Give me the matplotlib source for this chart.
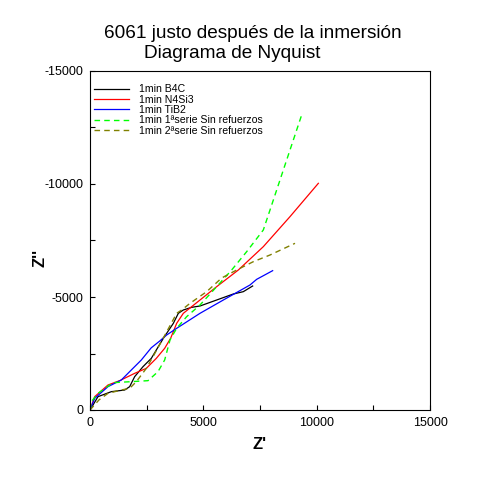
import matplotlib
matplotlib.use("Agg")
import matplotlib.pyplot as plt
from matplotlib.ticker import MultipleLocator

plt.rcParams['font.family'] = ['Liberation Sans', 'DejaVu Sans']
plt.rcParams['axes.unicode_minus'] = False

# Nyquist data (Z', Z'')
b4c_x = [0, 353, 940, 1530, 1750, 1970, 2338, 2705, 3235, 3676, 3897, 4117, 4485, 4853, 5588, 6323, 6764, 7176]
b4c_y = [0, -590, -811, -885, -1033, -1475, -1917, -2286, -3172, -3834, -4278, -4425, -4543, -4602, -4867, -5133, -5236, -5487]

n4si3_x = [0, 206, 794, 1309, 1970, 2485, 2926, 3294, 3560, 3823, 4117, 4853, 5588, 6544, 7646, 8823, 10074]
n4si3_y = [0, -590, -1106, -1298, -1622, -1843, -2286, -2729, -3180, -3834, -4278, -4867, -5457, -6195, -7227, -8555, -10030]

tib2_x = [0, 206, 794, 1382, 1822, 2264, 2700, 3073, 3382, 3823, 4853, 5882, 7058, 7353, 8058]
tib2_y = [0, -516, -1033, -1327, -1770, -2212, -2750, -3050, -3319, -3614, -4278, -4867, -5531, -5782, -6165]

serie1_x = [0, 59, 353, 1015, 1822, 2559, 3000, 3294, 3529, 3823, 4264, 4853, 5588, 6250, 6912, 7646, 8015, 8382, 8823, 9338]
serie1_y = [0, -369, -737, -1210, -1254, -1298, -1696, -2212, -3097, -3614, -4130, -4646, -5457, -6195, -7006, -7965, -9071, -10177, -11504, -13053]

serie2_x = [0, 400, 794, 1382, 1750, 2044, 2485, 2779, 3308, 3823, 4044, 4411, 5147, 5809, 6470, 7205, 7940, 9044]
serie2_y = [0, -450, -737, -885, -958, -1254, -1843, -2360, -3319, -4278, -4425, -4720, -5236, -5841, -6195, -6563, -6858, -7375]

fig = plt.figure(figsize=(5, 5), dpi=100)
ax = fig.add_axes([0.18, 0.18, 0.68, 0.678])

ax.plot(b4c_x, b4c_y, color='black', lw=0.9, label='1min B4C')
ax.plot(n4si3_x, n4si3_y, color='red', lw=0.9, label='1min N4Si3')
ax.plot(tib2_x, tib2_y, color='blue', lw=0.9, label='1min TiB2')
ax.plot(serie1_x, serie1_y, color='#00ff00', lw=1, dashes=(4, 3), label='1min 1ªserie Sin refuerzos')
ax.plot(serie2_x, serie2_y, color='#808000', lw=1, dashes=(4, 3), label='1min 2ªserie Sin refuerzos')

ax.set_xlim(0, 15000)
ax.set_ylim(0, -15000)
ax.xaxis.set_major_locator(MultipleLocator(5000))
ax.xaxis.set_minor_locator(MultipleLocator(2500))
ax.yaxis.set_major_locator(MultipleLocator(5000))
ax.yaxis.set_minor_locator(MultipleLocator(2500))
ax.tick_params(which='both', direction='in', length=3.5, width=0.8,
               top=False, right=False, labelsize=9, pad=5)

ax.set_xlabel("Z'", fontsize=12, fontweight='bold', labelpad=6)
ax.set_ylabel("Z''", fontsize=12, fontweight='bold')
ax.yaxis.set_label_coords(-0.125, 0.45)

leg = ax.legend(loc='upper left', frameon=False, fontsize=7.6, handlelength=3.3,
                handletextpad=0.9, labelspacing=0.03, borderaxespad=0.0,
                bbox_to_anchor=(0.0, 0.973))

fig.text(0.505, 0.932, '6061 justo después de la inmersión', fontsize=13.7, ha='center', va='center')
fig.text(0.465, 0.892, 'Diagrama de Nyquist', fontsize=13.7, ha='center', va='center')

fig.savefig('out.png', dpi=100)
